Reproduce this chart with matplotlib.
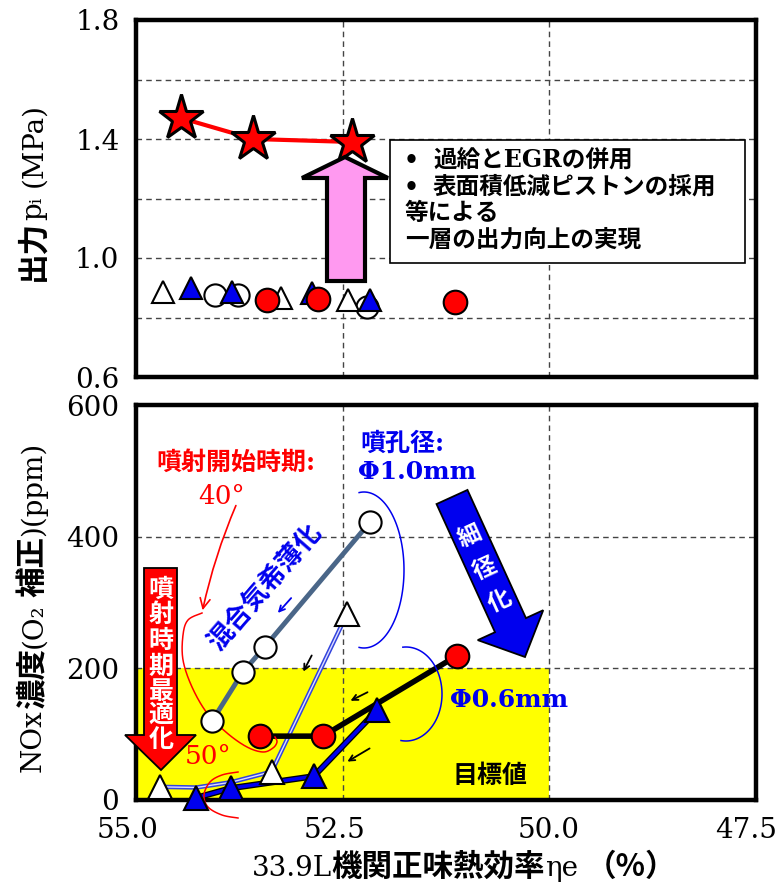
import matplotlib
matplotlib.use('Agg')
import matplotlib.pyplot as plt
import numpy as np
from matplotlib.patches import Polygon, Rectangle
from matplotlib.transforms import ScaledTranslation
import matplotlib.patheffects as pe

plt.rcParams['font.family'] = ['DejaVu Serif', 'DejaVu Sans', 'Noto Sans CJK JP']

# ---------------- data ----------------
x_ticks = [55.0, 52.5, 50.0, 47.5]
x_ticklabels = ['55.0', '52.5', '50.0', '47.5']
top_yticks = [0.6, 1.0, 1.4, 1.8]
top_yminor = [0.8, 1.2, 1.6]
bot_yticks = [0, 200, 400, 600]

# top panel: output pi (MPa)
top_star_x = [54.45, 53.58, 52.39]
top_star_y = [1.47, 1.40, 1.39]
top_wtri_x = [54.67, 53.24, 52.44]
top_wtri_y = [0.887, 0.867, 0.859]
top_btri_x = [54.33, 53.84, 52.87, 52.17]
top_btri_y = [0.898, 0.887, 0.881, 0.859]
top_wcir_x = [54.05, 53.77, 52.21]
top_wcir_y = [0.876, 0.876, 0.836]
top_rcir_x = [53.42, 52.80, 51.14]
top_rcir_y = [0.859, 0.861, 0.853]

# bottom panel: NOx (ppm)
nox_wcir_x = [54.08, 53.71, 53.44, 52.17]
nox_wcir_y = [120, 194, 233, 422]
nox_wtri_x = [54.71, 54.27, 53.85, 53.36, 52.45]
nox_wtri_y = [20, 19, 27, 43, 282]
nox_wtri_marks = [0, 3, 4]
nox_btri_x = [54.28, 53.85, 52.85, 52.08]
nox_btri_y = [3, 18, 36, 137]
nox_rcir_x = [53.50, 52.74, 51.12]
nox_rcir_y = [97, 97, 219]
target_x = [55.0, 50.0]
target_y = 200

# ---------------- figure ----------------
W, H = 780, 889
fig = plt.figure(figsize=(W / 100, H / 100), dpi=100)


def F(px, py):
    return (px / W, 1 - py / H)


def FA(pts):
    return np.array([F(p[0], p[1]) for p in pts])


ax1 = fig.add_axes([136 / W, 1 - 377 / H, 620 / W, 357 / H])
ax2 = fig.add_axes([136 / W, 1 - 800 / H, 620 / W, 395 / H])

grid_kw = dict(color='#444444', linewidth=1.0, linestyle=(0, (4, 3)))

for ax in (ax1, ax2):
    ax.set_xlim(55.0, 47.5)
    ax.set_xticks(x_ticks)
    ax.set_xticklabels(x_ticklabels)
    for s in ax.spines.values():
        s.set_linewidth(3.2)
        s.set_color('black')
    ax.tick_params(length=0, labelsize=20, pad=12)
    ax.set_axisbelow(True)
    ax.grid(axis='x', which='major', **grid_kw)

# ---- top panel ----
ax1.set_ylim(0.6, 1.8)
ax1.set_yticks(top_yticks)
ax1.set_yticklabels([f'{v:.1f}' for v in top_yticks])
ax1.set_yticks(top_yminor, minor=True)
ax1.tick_params(which='minor', length=0)
ax1.grid(axis='y', which='both', **grid_kw)
ax1.tick_params(axis='x', labelbottom=False)

ms_c = 16
ax1.plot(top_wcir_x, top_wcir_y, 'o', ms=ms_c, mfc='white', mec='black', mew=1.5, zorder=3)
ax1.plot(top_wtri_x, top_wtri_y, '^', ms=ms_c, mfc='white', mec='black', mew=1.5, zorder=3)
ax1.plot(top_btri_x, top_btri_y, '^', ms=ms_c, mfc='#0000ee', mec='black', mew=1.5, zorder=3)
ax1.plot(top_rcir_x, top_rcir_y, 'o', ms=ms_c + 1, mfc='#ff0000', mec='black', mew=1.5, zorder=4)
ax1.plot(top_star_x, top_star_y, '-', color='#ff0000', lw=3, zorder=4)
ax1.plot(top_star_x, top_star_y, '*', ms=34, mfc='#ff0000', mec='black', mew=2.2, zorder=5)

# pink arrow
pink = Polygon(FA([(327, 281), (327, 178), (302, 178), (345, 157), (388, 178), (365, 178), (365, 281)]),
               closed=True, transform=fig.transFigure, facecolor='#ff99f0', edgecolor='black',
               linewidth=3, clip_on=False, zorder=6)
ax1.add_patch(pink)

# text box
x0, y0 = F(390, 263)
x1, y1 = F(745, 140)
ax1.add_patch(Rectangle((x0, y0), x1 - x0, y1 - y0, transform=fig.transFigure, facecolor='white',
                        edgecolor='black', linewidth=1.2, clip_on=False, zorder=6))
box_kw = dict(transform=fig.transFigure, fontsize=17, fontweight='bold', va='center', ha='left', zorder=7)
ax1.text(*F(404, 160), '•', **box_kw)
ax1.text(*F(433, 160), '過給とEGRの併用', **box_kw)
ax1.text(*F(404, 187), '•', **box_kw)
ax1.text(*F(433, 187), '表面積低減ピストンの採用', **box_kw)
ax1.text(*F(405, 213), '等による', **box_kw)
ax1.text(*F(405, 240), '一層の出力向上の実現', **box_kw)

# ---- bottom panel ----
ax2.set_ylim(0, 600)
ax2.set_yticks(bot_yticks)
ax2.set_yticklabels([str(v) for v in bot_yticks])
ax2.grid(axis='y', which='major', **grid_kw)
ax2.tick_params(axis='x', pad=12)

ax2.fill_between(target_x, 0, target_y, color='#ffff00', zorder=0.2, linewidth=0)

ax2.plot(nox_wtri_x, nox_wtri_y, '-', color='#3344dd', lw=3.2, zorder=2)
ax2.plot(nox_wtri_x, nox_wtri_y, '-', color='#ddddff', lw=1.0, zorder=2.1)
ax2.plot(nox_btri_x, nox_btri_y, '-', color='#0000ee', lw=2.6, zorder=2.5,
         path_effects=[pe.Stroke(linewidth=4.5, foreground='black'), pe.Normal()])
ax2.plot(nox_wcir_x, nox_wcir_y, '-', color='#4a6688', lw=3.5, zorder=2.2)
ax2.plot(nox_rcir_x, nox_rcir_y, '-', color='black', lw=4, zorder=2.6)

ax2.plot(nox_wcir_x, nox_wcir_y, 'o', ms=16, mfc='white', mec='black', mew=1.5, zorder=4)
ax2.plot([nox_wtri_x[i] for i in nox_wtri_marks], [nox_wtri_y[i] for i in nox_wtri_marks], '^',
         ms=17, mfc='white', mec='black', mew=1.5, zorder=4, clip_on=False)
ax2.plot(nox_btri_x, nox_btri_y, '^', ms=17, mfc='#0000ee', mec='black', mew=1.5, zorder=4, clip_on=False)
ax2.plot(nox_rcir_x, nox_rcir_y, 'o', ms=17, mfc='#ff0000', mec='black', mew=1.5, zorder=4)

# shift x tick labels like the reference
for lab, dx in zip(ax2.get_xticklabels(), [-8, -8, -1, -10]):
    lab.set_transform(lab.get_transform() + ScaledTranslation(dx / 100, 0, fig.dpi_scale_trans))

# ---- mixed-font axis labels ----
LAT = dict(family=['DejaVu Serif', 'DejaVu Sans'], fontsize=20)
CJK = dict(family=['Noto Sans CJK JP'], fontsize=22, fontweight='bold')
renderer = fig.canvas.get_renderer()


def mixed_text(cx, cy, segs, vertical=False, base_off=10):
    ws = []
    for s, kw in segs:
        if s is None:
            ws.append(kw)
            continue
        t = fig.text(0, 0, s, **kw)
        ws.append(t.get_window_extent(renderer).width)
        t.remove()
    total = sum(ws)
    if vertical:
        pos = cy + total / 2
        for (s, kw), w in zip(segs, ws):
            if s is not None:
                fig.text(*F(cx + base_off, pos), s, rotation=90, rotation_mode='anchor',
                         ha='left', va='baseline', **kw)
            pos -= w
    else:
        pos = cx - total / 2
        for (s, kw), w in zip(segs, ws):
            if s is not None:
                fig.text(*F(pos, cy + base_off), s, ha='left', va='baseline', **kw)
            pos += w


mixed_text(31, 192, [('出力', CJK), ('pᵢ', LAT), (None, 10), ('(MPa)', LAT)], vertical=True)
mixed_text(31, 607, [('NOx', LAT), ('濃度', CJK), ('(O₂', LAT), (None, 6), ('補正', CJK), (')(ppm)', LAT)],
           vertical=True)
mixed_text(464, 866, [('33.9L', LAT), ('機関正味熱効率', CJK), ('ηe', LAT), (None, 8), ('（%）', CJK)])

# ---- annotations (figure pixel placement) ----
tkw = dict(transform=fig.transFigure, ha='center', va='center', zorder=8)
ax2.text(*F(236, 463), '噴射開始時期:', color='#ff0000', fontsize=18, fontweight='bold', **tkw)
ax2.text(*F(222, 496), '40°', color='#ff0000', fontsize=19, **tkw)
ax2.text(*F(208, 757), '50°', color='#ff0000', fontsize=19, **tkw)
ax2.text(*F(360, 444), '噴孔径:', color='#0000ee', fontsize=18, fontweight='bold',
         transform=fig.transFigure, ha='left', va='center', zorder=8)
ax2.text(*F(358, 472), 'Φ1.0mm', color='#0000ee', fontsize=18, fontweight='bold',
         transform=fig.transFigure, ha='left', va='center', zorder=8)
ax2.text(*F(450, 700), 'Φ0.6mm', color='#0000ee', fontsize=18, fontweight='bold',
         transform=fig.transFigure, ha='left', va='center', zorder=8)
ax2.text(*F(490, 776), '目標値', color='black', fontsize=18, fontweight='bold', fontstyle='italic', **tkw)
ax2.text(*F(266, 588), '混合気希薄化', color='#0000ee', fontsize=19, fontweight='bold',
         rotation=49, rotation_mode='anchor', **tkw)

akw = dict(xycoords='figure fraction', textcoords='figure fraction', zorder=8)
ax2.annotate('', xy=F(276, 615), xytext=F(293, 596),
             arrowprops=dict(arrowstyle='->', color='#0000ee', lw=1.3), **akw)
for (tx, ty, hx, hy) in [(313, 653, 302, 674), (370, 691, 348, 702), (372, 747, 345, 763)]:
    ax2.annotate('', xy=F(hx, hy), xytext=F(tx, ty),
                 arrowprops=dict(arrowstyle='->', color='black', lw=1.3), **akw)
ax2.annotate('', xy=F(202, 613), xytext=F(237, 503),
             arrowprops=dict(arrowstyle='->', color='#ff0000', lw=1.2, connectionstyle='arc3,rad=0.05',
                             mutation_scale=18), **akw)


def smooth(pts, n=20):
    pts = np.asarray(pts, float)
    P = np.vstack([pts[0], pts, pts[-1]])
    out = []
    for i in range(1, len(P) - 2):
        p0, p1, p2, p3 = P[i - 1], P[i], P[i + 1], P[i + 2]
        for t in np.linspace(0, 1, n, endpoint=False):
            out.append(0.5 * ((2 * p1) + (-p0 + p2) * t + (2 * p0 - 5 * p1 + 4 * p2 - p3) * t ** 2
                              + (-p0 + 3 * p1 - 3 * p2 + p3) * t ** 3))
    out.append(pts[-1])
    return np.array(out)


red_curve = smooth([(202, 613), (188, 620), (183, 635), (183, 660), (192, 687), (207, 713), (227, 733),
                    (247, 747), (263, 752), (273, 748), (277, 742), (275, 737)])
red_small = smooth([(238, 772), (222, 775), (210, 782), (204, 795), (208, 807), (222, 815), (238, 818)])
for c in (red_curve, red_small):
    xy = FA(c)
    ax2.plot(xy[:, 0], xy[:, 1], color='#ff0000', lw=1.1, transform=fig.transFigure, clip_on=False, zorder=3)


def ell(cx, cy, a, b, t0, t1):
    t = np.radians(np.linspace(t0, t1, 80))
    return np.column_stack([cx + a * np.cos(t), cy - b * np.sin(t)])


for c in (ell(364, 570, 40, 78, 97, -97), ell(406, 694, 36, 47, 95, -98)):
    xy = FA(c)
    ax2.plot(xy[:, 0], xy[:, 1], color='#0000ee', lw=1.1, transform=fig.transFigure, clip_on=False, zorder=3)

# red down arrow box
red_arrow = Polygon(FA([(144, 568), (177, 568), (177, 735), (196, 735), (161, 770), (125, 735), (144, 735)]),
                    closed=True, transform=fig.transFigure, facecolor='#ff0000', edgecolor='black',
                    linewidth=1.3, clip_on=False, zorder=6)
ax2.add_patch(red_arrow)
for ch, yy in zip('噴射時期最適化', [590, 615, 641, 667, 692, 716, 740]):
    ax2.text(*F(161, yy), ch, color='white', fontsize=18, fontweight='bold', **tkw)

# blue arrow 細径化
T = np.array([452.0, 497.0])
P = np.array([525.0, 657.0])
u = (P - T) / np.linalg.norm(P - T)
n = np.array([-u[1], u[0]])
Hb = P - 35 * u
blue_pts = [T + 17 * n, Hb + 17 * n, Hb + 36 * n, P, Hb - 36 * n, Hb - 17 * n, T - 17 * n]
ax2.add_patch(Polygon(FA(blue_pts), closed=True, transform=fig.transFigure, facecolor='#0000ee',
                      edgecolor='black', linewidth=1.3, clip_on=False, zorder=6))
for ch, d in zip('細径化', [43, 79, 114]):
    q = T + d * u
    ax2.text(*F(q[0], q[1]), ch, color='white', fontsize=17, fontweight='bold', rotation=24.5,
             rotation_mode='anchor', **tkw)

fig.savefig('out.png', dpi=100)
